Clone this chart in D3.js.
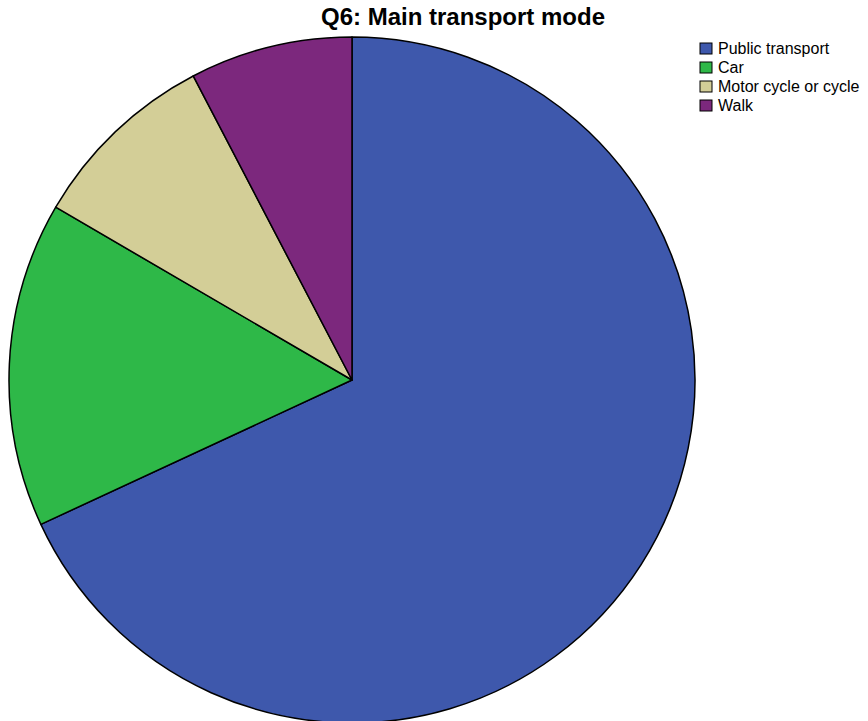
<!DOCTYPE html>
<html>
<head>
<meta charset="utf-8">
<script src="https://cdn.jsdelivr.net/npm/d3@7"></script>
<style>
  body { margin: 0; background: #fff; }
  svg { display: block; }
</style>
</head>
<body>
<svg id="chart"></svg>
<script>
// data (counts)
const categories = ["Public transport", "Car", "Motor cycle or cycle", "Walk"];
const counts = [160, 36, 21, 18];
const colors = ["#3E58AC", "#2EB848", "#D3CE97", "#7C287D"];

var width = 868;
var height = 721;

var svg = d3.select("#chart")
	.attr("width", width)
	.attr("height", height);

// title
svg.append("text")
	.attr("x", 463)
	.attr("y", 25)
	.attr("text-anchor", "middle")
	.style("font-family", "Liberation Sans, Arial, sans-serif")
	.style("font-weight", "bold")
	.style("font-size", "24px")
	.text("Q6: Main transport mode");

var cx = 352, cy = 380, radius = 343;

var pie = d3.pie()
	.sort(null)
	.value(d => d);

var arc = d3.arc()
	.innerRadius(0)
	.outerRadius(radius);

var g = svg.append("g")
	.attr("transform", "translate(" + cx + "," + cy + ")");

g.selectAll("path")
	.data(pie(counts))
	.enter()
	.append("path")
	.attr("d", arc)
	.attr("fill", (d, i) => colors[i])
	.attr("stroke", "#000")
	.attr("stroke-width", 1.5)
	.attr("stroke-linejoin", "round");

// legend
var legend = svg.append("g")
	.attr("transform", "translate(700,43)");

var rows = legend.selectAll("g")
	.data(categories)
	.enter()
	.append("g")
	.attr("transform", (d, i) => "translate(0," + i * 19 + ")");

rows.append("rect")
	.attr("width", 12)
	.attr("height", 11)
	.attr("fill", (d, i) => colors[i])
	.attr("stroke", "#000")
	.attr("stroke-width", 1);

rows.append("text")
	.attr("x", 18)
	.attr("y", 11)
	.style("font-family", "Liberation Sans, Arial, sans-serif")
	.style("font-size", "16px")
	.text(d => d);
</script>
</body>
</html>
